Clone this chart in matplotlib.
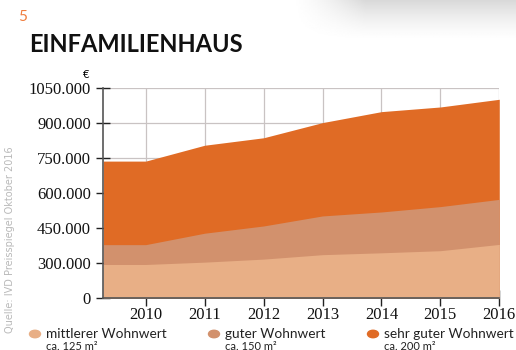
import numpy as np
import matplotlib.pyplot as plt

# Kaufpreise Einfamilienhaus in Euro
jahre = [2010, 2011, 2012, 2013, 2014, 2015, 2016]
mittlerer = [295000, 305000, 318000, 337000, 345000, 354000, 381000]
guter = [380000, 429000, 460000, 503000, 520000, 543000, 574000]
sehr_guter = [738000, 806000, 838000, 903000, 950000, 970000, 1003000]

serien = [
    ("sehr guter Wohnwert", "ca. 200 m²", sehr_guter, "#e06b25"),
    ("guter Wohnwert", "ca. 150 m²", guter, "#d2916d"),
    ("mittlerer Wohnwert", "ca. 125 m²", mittlerer, "#e8af86"),
]
y_ticks = [150000, 300000, 450000, 600000, 750000, 900000, 1050000]
y_labels = ["0", "300.000", "450.000", "600.000", "750.000", "900.000", "1050.000"]

fig = plt.figure(figsize=(5.16, 3.5), dpi=100)

# Schatten oben rechts
gy = np.linspace(0.85, 1.0, 60) ** 1.0
gy = 1 - (1 - gy) * np.linspace(1, 0, 60) ** 0.5
fade = np.clip(np.linspace(0, 1, 120) * 3, 0, 1) ** 1.5
img = 1 - (1 - gy[:, None]) * fade[None, :]
bg = fig.add_axes([0.56, 0.88, 0.44, 0.12])
bg.imshow(img, cmap="gray", vmin=0, vmax=1, aspect="auto", interpolation="bilinear")
bg.axis("off")

ax = fig.add_axes([0.2002, 0.1477, 0.7674, 0.6])
x0 = 2009.28
xs = [x0] + jahre
for name, sub, werte, farbe in serien:
    ax.fill_between(xs, y_ticks[0], [werte[0]] + werte, color=farbe, lw=0, zorder=2)

ax.set_xlim(x0, 2016)
ax.set_ylim(y_ticks[0], y_ticks[-1])
ax.set_xticks(jahre)
ax.set_yticks(y_ticks)
ax.set_yticklabels(y_labels)
ax.grid(True, color="#c9c3c3", lw=0.9, zorder=1)
for s in ["top", "right"]:
    ax.spines[s].set_visible(False)
for s in ["left", "bottom"]:
    ax.spines[s].set_color("#555555")
    ax.spines[s].set_linewidth(1.2)
    ax.spines[s].set_zorder(3)
ax.tick_params(axis="y", direction="inout", length=10, width=1, color="#222222", pad=4)
ax.tick_params(axis="x", direction="inout", length=11, width=1, color="#222222", pad=1)
for lbl in ax.get_xticklabels() + ax.get_yticklabels():
    lbl.set_fontfamily("Liberation Serif")
    lbl.set_fontsize(12)
    lbl.set_color("#111111")

fig.text(18 / 516, 1 - 17 / 350, "5", color="#f07d3e", fontsize=11, va="center",
         family="Lato")
fig.text(29 / 516, 1 - 44 / 350, "EINFAMILIENHAUS", fontsize=17, fontweight="bold",
         va="center", family="Lato", color="#111111")
fig.text(86 / 516, 1 - 74 / 350, "€", fontsize=8, ha="center", va="center", family="Lato")
fig.text(10 / 516, 1 - 240 / 350, "Quelle: IVD Preisspiegel Oktober 2016", rotation=90,
         fontsize=7, color="#b9b9b9", ha="center", va="center", family="DejaVu Sans")

# Legende
leg_x = [35, 214, 373]
for (name, sub, werte, farbe), lx in zip(reversed(serien), leg_x):
    fig.patches.append(plt.Circle((lx / 516, 1 - 334 / 350), 5.5 / 516, color=farbe,
                                  transform=fig.transFigure))
    fig.text((lx + 11) / 516, 1 - 334 / 350, name, fontsize=9.8, va="center",
             family="Lato", color="#222222")
    fig.text((lx + 11) / 516, 1 - 346 / 350, sub, fontsize=8, va="center",
             family="Lato", color="#222222")

fig.savefig("out.png", dpi=100)
